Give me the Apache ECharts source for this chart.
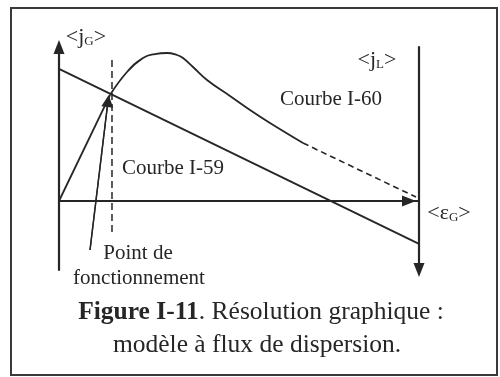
<!DOCTYPE html>
<html>
<head>
<meta charset="utf-8">
<script src="https://cdn.jsdelivr.net/npm/echarts@6/dist/echarts.min.js"></script>
<style>
  html, body { margin: 0; padding: 0; background: #fff; }
  #chart { width: 500px; height: 377px; }
</style>
</head>
<body>
<div id="chart"></div>
<script>
// units: x 0..10 between the two vertical axes, y 0 on the <eG> axis
const curveRise = [[0, 0], [1.417, 2.944]];
const curveHump = [
  [1.417, 2.944], [1.889, 3.583], [2.333, 3.972], [2.667, 4.083], [3.0, 4.111],
  [3.278, 4.056], [3.444, 3.972], [3.722, 3.722], [4.111, 3.361], [4.75, 2.917],
  [5.306, 2.528], [5.861, 2.167], [6.778, 1.611]
];
const curveTail = [[6.778, 1.611], [9.389, 0.361], [9.917, 0.111]];
const line59 = [[0, 3.67], [10, -1.19]];
const operatingLine = [[1.472, 3.92], [1.472, -0.89]];
const pointerLine = [[0.861, -1.361], [1.361, 2.778]];

const ink = '#262626';
const serif = 'Liberation Serif';

const chartDom = document.getElementById('chart');
const myChart = echarts.init(chartDom);

const lineSeries = (data, extra) => Object.assign({
  type: 'line',
  data: data,
  symbol: 'none',
  silent: true,
  clip: false,
  lineStyle: { color: ink, width: 1.8 }
}, extra);

const axisStyle = { color: ink, width: 2.2 };
const hidden = { axisTick: { show: false }, axisLabel: { show: false }, splitLine: { show: false } };

const subLabel = (txt, big, small) => ({
  text: '{a|<' + txt[0] + '}{s|' + txt[1] + '}{a|>}', align: 'center', verticalAlign: 'middle',
  rich: {
    a: { fontFamily: serif, fontSize: big, fill: ink },
    s: { fontFamily: serif, fontSize: small, fill: ink, padding: [9, 0, 0, 0] }
  }
});
const plain = (txt, size) => ({ text: txt, font: size + 'px "Liberation Serif"', fill: ink, align: 'center', verticalAlign: 'middle' });

const option = {
  backgroundColor: '#fff',
  animation: false,
  grid: { left: 59, right: 81, top: 47, bottom: 107 },
  xAxis: Object.assign({
    type: 'value', min: 0, max: 10,
    axisLine: { onZero: true, symbol: ['none', 'triangle'], symbolSize: [11, 14], symbolOffset: [0, -10], lineStyle: axisStyle }
  }, hidden),
  yAxis: [
    Object.assign({
      type: 'value', min: -1.917, max: 4.278, position: 'left',
      axisLine: { show: true, onZero: false, symbol: ['none', 'triangle'], symbolSize: [11, 14], lineStyle: axisStyle }
    }, hidden),
    Object.assign({
      type: 'value', min: -1.917, max: 4.278, position: 'right',
      axisLine: { show: true, onZero: false, symbol: ['triangle', 'none'], symbolSize: [11, 14], lineStyle: axisStyle }
    }, hidden)
  ],
  series: [
    lineSeries(curveRise),
    lineSeries(curveHump, { smooth: 0.45 }),
    lineSeries(curveTail, { lineStyle: { color: ink, width: 1.6, type: [6, 4] } }),
    lineSeries(line59),
    lineSeries(operatingLine, { lineStyle: { color: ink, width: 1.5, type: [7, 4] } }),
    lineSeries(pointerLine, {
      lineStyle: { color: ink, width: 1.4 },
      markLine: {
        silent: true,
        symbol: ['none', 'triangle'],
        symbolSize: 12,
        label: { show: false },
        lineStyle: { color: ink, width: 1.4, type: 'solid' },
        data: [[{ coord: pointerLine[0] }, { coord: pointerLine[1] }]]
      }
    })
  ],
  graphic: [
    { type: 'rect', silent: true, shape: { x: 11, y: 8, width: 486, height: 367 }, style: { fill: 'none', stroke: '#3a3a3a', lineWidth: 2 } },
    { type: 'text', x: 86, y: 37, style: subLabel('jG', 22, 13) },
    { type: 'text', x: 377, y: 60, style: subLabel('jL', 22, 13) },
    { type: 'text', x: 449, y: 213, style: subLabel('εG', 22, 13) },
    { type: 'text', x: 331, y: 99, style: plain('Courbe I-60', 21) },
    { type: 'text', x: 173, y: 168, style: plain('Courbe I-59', 21) },
    { type: 'text', x: 138, y: 253, style: plain('Point de', 21) },
    { type: 'text', x: 139, y: 278, style: plain('fonctionnement', 21) },
    {
      type: 'text', x: 261, y: 312,
      style: {
        text: '{b|Figure I-11}{n|. Résolution graphique :}', align: 'center', verticalAlign: 'middle',
        rich: {
          b: { fontFamily: serif, fontSize: 25.5, fontWeight: 'bold', fill: ink },
          n: { fontFamily: serif, fontSize: 25.5, fill: ink }
        }
      }
    },
    { type: 'text', x: 257, y: 345, style: plain('modèle à flux de dispersion.', 25.5) }
  ]
};

option && myChart.setOption(option);
</script>
</body>
</html>
